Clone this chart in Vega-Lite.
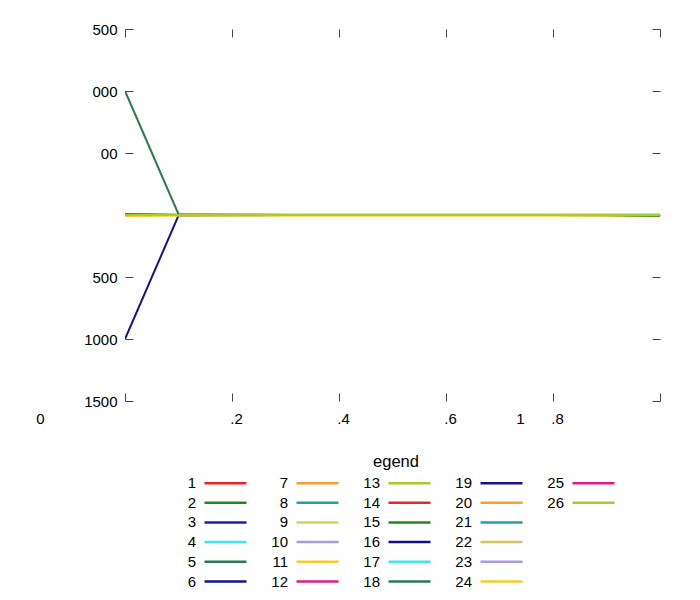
{
  "$schema": "https://vega.github.io/schema/vega-lite/v6.json",
  "width": 535,
  "height": 372,
  "autosize": {"type": "none"},
  "padding": {"left": 125, "top": 29, "right": 40, "bottom": 199},
  "background": "white",
  "config": {
    "view": {"stroke": null},
    "font": "Liberation Sans",
    "axis": {
      "domain": false,
      "grid": false,
      "tickColor": "#444444",
      "tickSize": -8,
      "tickWidth": 1,
      "labelFont": "Liberation Sans",
      "labelFontSize": 15,
      "labelColor": "black",
      "title": null
    }
  },
  "data": {
    "values": [
      {"x": 0.0, "1": 8, "2": 0, "3": 0, "4": 0, "5": 1000, "6": -1000, "7": 0, "8": 0, "9": 0, "10": 0, "11": -6, "12": 0, "13": 0, "14": 4, "15": 0, "16": 0, "17": 0, "18": 0, "19": 0, "20": 0, "21": 0, "22": 0, "23": 0, "24": -8, "25": 0, "26": 0},
      {"x": 0.1, "1": 2, "2": 0, "3": 0, "4": 0, "5": 6, "6": -5, "7": 0, "8": 0, "9": 0, "10": 0, "11": -3, "12": 0, "13": 0, "14": 0, "15": 0, "16": 0, "17": 0, "18": 0, "19": 0, "20": 0, "21": 0, "22": 0, "23": 0, "24": -4, "25": 0, "26": 0},
      {"x": 0.2, "1": 2, "2": 0, "3": 0, "4": 0, "5": 2, "6": -3, "7": 0, "8": 0, "9": 0, "10": 0, "11": -3, "12": 0, "13": 0, "14": 0, "15": 0, "16": 0, "17": 0, "18": 0, "19": 0, "20": 0, "21": 0, "22": 0, "23": 0, "24": -4, "25": 0, "26": 0},
      {"x": 0.3, "1": 2, "2": 0, "3": 0, "4": 0, "5": 0, "6": -1, "7": 0, "8": 0, "9": 0, "10": 0, "11": -3, "12": 0, "13": 0, "14": 0, "15": 0, "16": 0, "17": 0, "18": 0, "19": 0, "20": 0, "21": 0, "22": 0, "23": 0, "24": -4, "25": 0, "26": 0},
      {"x": 0.4, "1": 2, "2": 0, "3": 0, "4": 0, "5": 0, "6": 0, "7": 0, "8": 0, "9": 0, "10": 0, "11": -3, "12": 0, "13": 0, "14": 0, "15": 0, "16": 0, "17": 0, "18": 0, "19": 0, "20": 0, "21": 0, "22": 0, "23": 0, "24": -4, "25": 0, "26": 0},
      {"x": 0.5, "1": 2, "2": 0, "3": 0, "4": 0, "5": 0, "6": 0, "7": 0, "8": 0, "9": 0, "10": 0, "11": -3, "12": 0, "13": 0, "14": 0, "15": 0, "16": 0, "17": 0, "18": 0, "19": 0, "20": 0, "21": 0, "22": 0, "23": 0, "24": -4, "25": 0, "26": 0},
      {"x": 0.6, "1": 2, "2": 0, "3": 0, "4": 0, "5": 0, "6": 0, "7": 0, "8": 0, "9": 0, "10": 0, "11": -3, "12": 0, "13": 0, "14": 0, "15": 0, "16": 0, "17": 0, "18": 0, "19": 0, "20": 0, "21": 0, "22": 0, "23": 0, "24": -4, "25": 0, "26": 0},
      {"x": 0.7, "1": 2, "2": 0, "3": 0, "4": 0, "5": 0, "6": 0, "7": 0, "8": 0, "9": 0, "10": 0, "11": -3, "12": 0, "13": 0, "14": 0, "15": 0, "16": 0, "17": 0, "18": 0, "19": 0, "20": 0, "21": 0, "22": 0, "23": 0, "24": -4, "25": 0, "26": 0},
      {"x": 0.8, "1": 2, "2": 0, "3": 0, "4": 0, "5": 0, "6": 0, "7": 0, "8": 0, "9": 0, "10": 0, "11": -3, "12": 0, "13": 0, "14": 0, "15": 0, "16": 0, "17": 0, "18": 0, "19": 0, "20": 0, "21": 0, "22": 0, "23": 0, "24": -4, "25": 0, "26": 0},
      {"x": 0.9, "1": 2, "2": -2, "3": 0, "4": 0, "5": 0, "6": 0, "7": 0, "8": 0, "9": 0, "10": 0, "11": -3, "12": 0, "13": 0, "14": 0, "15": -2, "16": 0, "17": 0, "18": 0, "19": 0, "20": 0, "21": 0, "22": 0, "23": 0, "24": -4, "25": 0, "26": 0},
      {"x": 1.0, "1": 2, "2": -8, "3": 0, "4": 0, "5": 0, "6": 0, "7": 0, "8": 0, "9": 0, "10": 0, "11": 3, "12": 0, "13": 0, "14": 0, "15": -8, "16": 0, "17": 0, "18": 0, "19": 0, "20": 0, "21": 0, "22": 0, "23": 0, "24": -2, "25": 0, "26": 0}
    ]
  },
  "transform": [
    {"fold": ["1","2","3","4","5","6","7","8","9","10","11","12","13","14","15","16","17","18","19","20","21","22","23","24","25","26"], "as": ["series", "value"]}
  ],
  "layer": [
    {
      "mark": {"type": "line", "strokeWidth": 2, "clip": true},
      "encoding": {
        "x": {
          "field": "x", "type": "quantitative",
          "scale": {"domain": [0, 1], "nice": false, "zero": false},
          "axis": {
            "orient": "bottom",
            "values": [0, 0.2, 0.4, 0.6, 0.8, 1],
            "labelExpr": "datum.value == 0 ? '0' : datum.value == 1 ? '1' : datum.value < 0.3 ? '.2' : datum.value < 0.5 ? '.4' : datum.value < 0.7 ? '.6' : '.8'",
            "labelPadding": 18,
            "labelBaseline": "top",
            "labelFlush": false,
            "labelOverlap": false,
            "labelOffset": {"condition": [{"test": "datum.value == 0", "value": -85}, {"test": "datum.value == 1", "value": -140}], "value": 4}
          }
        },
        "y": {
          "field": "value", "type": "quantitative",
          "scale": {"domain": [-1500, 1500], "nice": false, "zero": false},
          "axis": {
            "orient": "left",
            "values": [-1500, -1000, -500, 0, 500, 1000, 1500],
            "labelExpr": "datum.value == 1500 ? '500' : datum.value == 1000 ? '000' : datum.value == 500 ? '00' : datum.value == 0 ? '' : datum.value == -500 ? '500' : datum.value == -1000 ? '1000' : '1500'",
            "labelPadding": 16,
            "labelFlush": false,
            "labelOverlap": false,
            "labelBaseline": "middle"
          }
        },
        "color": {
          "field": "series", "type": "nominal",
          "scale": {
            "domain": ["1","2","3","4","5","6","7","8","9","10","11","12","13","14","15","16","17","18","19","20","21","22","23","24","25","26"," ","  ","   ","    "],
            "range": ["#e8262a","#1e8a1e","#1c1cb4","#40e8e8","#2a7a50","#14148c","#f5a032","#1fa0a6","#d4d45a","#a89ae0","#f8cc2c","#dc1f7c","#a8cc2c","#e8262a","#1e8a1e","#10108e","#40e8e8","#2a7a50","#14148c","#f5a032","#1fa0a6","#d4c45a","#a89ae0","#f8cc2c","#dc1f7c","#a8cc2c","transparent","transparent","transparent","transparent"]
          },
          "legend": {
            "orient": "none",
            "legendX": 93,
            "legendY": 425,
            "direction": "vertical",
            "columns": 5,
            "title": "egend",
            "titleAnchor": "middle",
            "titleFont": "Liberation Sans",
            "titleFontSize": 16.5,
            "titleFontWeight": "normal",
            "titleColor": "black",
            "titlePadding": 5,
            "labelFont": "Liberation Sans",
            "labelFontSize": 15,
            "labelColor": "black",
            "labelAlign": "right",
            "labelOffset": 0,
            "symbolType": "M-21,0H21",
            "symbolSize": 4,
            "symbolStrokeWidth": 2.5,
            "columnPadding": 19,
            "rowPadding": 3.7,
            "encode": {
              "labels": {"update": {"dx": {"value": -37}}},
              "title": {"update": {"dx": {"value": -23}}}
            }
          }
        }
      }
    },
    {
      "mark": {"type": "line", "opacity": 0},
      "encoding": {
        "x": {
          "field": "x", "type": "quantitative",
          "axis": {"orient": "top", "values": [0, 0.2, 0.4, 0.6, 0.8, 1], "labels": false}
        },
        "y": {
          "field": "value", "type": "quantitative",
          "axis": {"orient": "right", "values": [-1500, -1000, -500, 0, 500, 1000, 1500], "labels": false}
        },
        "detail": {"field": "series", "type": "nominal"}
      }
    }
  ],
  "resolve": {"axis": {"x": "independent", "y": "independent"}}
}
